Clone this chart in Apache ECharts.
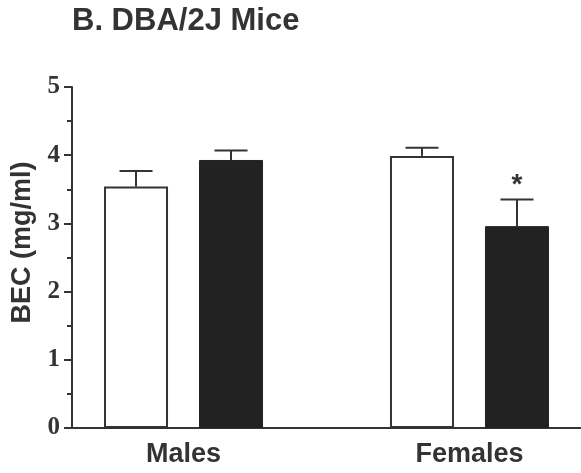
<!DOCTYPE html>
<html>
<head>
<meta charset="utf-8">
<script src="https://cdn.jsdelivr.net/npm/echarts@6/dist/echarts.min.js"></script>
<style>
  html, body { margin: 0; padding: 0; background: #fff; }
  #main { width: 581px; height: 473px; }
</style>
</head>
<body>
<div id="main"></div>
<script>
var categories = ['Males', 'Females'];
var openMean = [3.54, 3.99];
var openSem = [0.23, 0.12];
var filledMean = [3.93, 2.96];
var filledSem = [0.14, 0.39];
var filledMark = ['', '*'];
var yTicks = [0, 1, 2, 3, 4, 5];

var BAR_W = 64;
var BAR_GAP = 31;
var CAP_W = 33;
var ink = '#333';
var sans = 'Liberation Sans';
var serif = 'Liberation Serif';

var chart = echarts.init(document.getElementById('main'));

function barData(means) {
    return means.map(function (v, i) { return [i, v]; });
}

function errData(means, sems, marks) {
    return means.map(function (v, i) {
        return [i, v, v + sems[i], marks ? marks[i] : ''];
    });
}

// draws the upper whisker + cap, side = -1 left bar, 1 right bar
function errRender(side, color) {
    return function (params, api) {
        var x = api.value(0);
        var top = api.coord([x, api.value(1)]);
        var hi = api.coord([x, api.value(2)]);
        var cx = top[0] + side * (BAR_W + BAR_GAP) / 2;
        var kids = [{
            type: 'line',
            shape: { x1: cx, y1: top[1], x2: cx, y2: hi[1] },
            style: { stroke: color, lineWidth: 2 }
        }, {
            type: 'line',
            shape: { x1: cx - CAP_W / 2, y1: hi[1], x2: cx + CAP_W / 2, y2: hi[1] },
            style: { stroke: ink, lineWidth: 2 }
        }];
        var mark = api.value(3);
        if (mark) {
            kids.push({
                type: 'text',
                x: cx,
                y: hi[1] - 14,
                style: {
                    text: mark,
                    fill: ink,
                    font: 'bold 28px ' + sans,
                    align: 'center',
                    verticalAlign: 'middle'
                }
            });
        }
        return { type: 'group', children: kids };
    };
}

var option = {
    backgroundColor: '#fff',
    animation: false,
    title: {
        text: 'B. DBA/2J Mice',
        left: 72,
        top: 6,
        padding: 0,
        textStyle: { fontFamily: sans, fontWeight: 'bold', fontSize: 31, color: ink }
    },
    grid: { left: 72, right: 0, top: 87, bottom: 45 },
    xAxis: {
        type: 'value',
        min: -0.39,
        max: 1.39,
        splitLine: { show: false },
        axisTick: { show: false },
        axisLine: { show: true, onZero: true, lineStyle: { color: ink, width: 2 } },
        axisLabel: {
            customValues: categories.map(function (c, i) { return i; }),
            formatter: function (v) { return categories[Math.round(v)] || ''; },
            fontFamily: sans,
            fontWeight: 'bold',
            fontSize: 27,
            color: ink,
            margin: 13
        }
    },
    yAxis: {
        type: 'value',
        min: yTicks[0],
        max: yTicks[yTicks.length - 1],
        interval: 1,
        name: 'BEC (mg/ml)',
        nameLocation: 'middle',
        nameRotate: 90,
        nameGap: 36,
        nameTextStyle: {
            fontFamily: sans, fontWeight: 'bold', fontSize: 27, color: ink,
            padding: [0, 0, 0, 30]
        },
        splitLine: { show: false },
        axisLine: { show: true, onZero: false, lineStyle: { color: ink, width: 2 } },
        axisTick: { show: true, length: 8, lineStyle: { color: ink, width: 2 } },
        minorTick: { show: true, splitNumber: 2, length: 5, lineStyle: { color: ink, width: 2 } },
        axisLabel: {
            fontFamily: serif,
            fontWeight: 'bold',
            fontSize: 25,
            color: ink,
            margin: 12
        }
    },
    series: [{
        type: 'bar',
        name: 'open',
        data: barData(openMean),
        barWidth: BAR_W,
        barGap: (BAR_GAP / BAR_W * 100) + '%',
        itemStyle: { color: '#fff', borderColor: ink, borderWidth: 2 },
        z: 2
    }, {
        type: 'bar',
        name: 'filled',
        data: barData(filledMean),
        barWidth: BAR_W,
        itemStyle: { color: '#222', borderColor: '#222', borderWidth: 1 },
        z: 2
    }, {
        type: 'custom',
        data: errData(openMean, openSem),
        renderItem: errRender(-1, ink),
        z: 3
    }, {
        type: 'custom',
        data: errData(filledMean, filledSem, filledMark),
        renderItem: errRender(1, ink),
        z: 3
    }]
};

chart.setOption(option);
</script>
</body>
</html>
